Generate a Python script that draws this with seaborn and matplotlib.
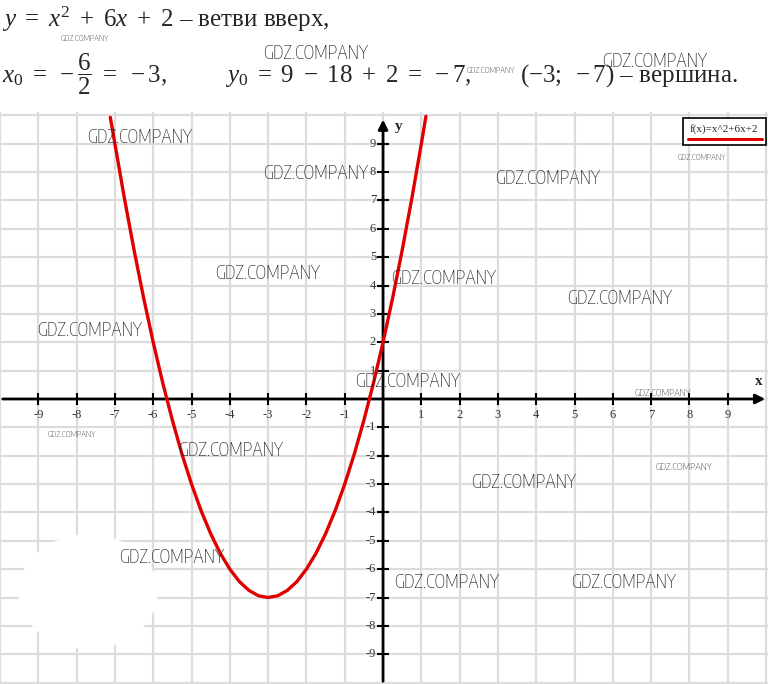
import matplotlib
matplotlib.use("Agg")
import matplotlib.pyplot as plt
import seaborn as sns
from matplotlib import font_manager
from matplotlib.font_manager import FontProperties
from matplotlib.patches import Ellipse, Rectangle
from matplotlib.lines import Line2D

# curve points: f(x) = x^2 + 6x + 2
curve_x = [-7.12, -7.0, -6.75, -6.5, -6.25, -6.0, -5.75, -5.5, -5.25, -5.0,
           -4.75, -4.5, -4.25, -4.0, -3.75, -3.5, -3.25, -3.0, -2.75, -2.5,
           -2.25, -2.0, -1.75, -1.5, -1.25, -1.0, -0.75, -0.5, -0.25, 0.0,
           0.25, 0.5, 0.75, 1.0, 1.12]
curve_y = [9.93, 9.0, 7.06, 5.25, 3.56, 2.0, 0.56, -0.75, -1.94, -3.0,
           -3.94, -4.75, -5.44, -6.0, -6.44, -6.75, -6.94, -7.0, -6.94, -6.75,
           -6.44, -6.0, -5.44, -4.75, -3.94, -3.0, -1.94, -0.75, 0.56, 2.0,
           3.56, 5.25, 7.06, 9.0, 9.97]

x_ticks = [-9, -8, -7, -6, -5, -4, -3, -2, -1, 1, 2, 3, 4, 5, 6, 7, 8, 9]
y_ticks = [-9, -8, -7, -6, -5, -4, -3, -2, -1, 1, 2, 3, 4, 5, 6, 7, 8, 9]
legend_label = "f(x)=x^2+6x+2"

# watermark positions in pixels (x, y from top, size)
watermarks = [(85, 38, 6), (316, 52, 13), (491, 70, 6), (655, 60, 13),
              (140, 136, 13), (316, 172, 13), (548, 177, 13), (702, 157, 6),
              (268, 272, 13), (444, 277, 13), (620, 297, 13), (90, 329, 13),
              (408, 380, 13), (663, 393, 7), (72, 434, 6), (231, 449, 13),
              (684, 466, 7), (524, 481, 13), (172, 556, 13), (447, 581, 13),
              (624, 581, 13)]

W, H = 768, 684
sns.set_style("white")
plt.rcParams['font.family'] = ['Liberation Serif', 'DejaVu Serif']
plt.rcParams['mathtext.fontset'] = 'custom'
plt.rcParams['mathtext.rm'] = 'Liberation Serif'
plt.rcParams['mathtext.it'] = 'Liberation Serif:italic'
plt.rcParams['mathtext.bf'] = 'Liberation Serif:bold'

# pick a narrow sans font for the watermark if there is one
narrow = [f for f in font_manager.fontManager.ttflist
          if ('Narrow' in f.name or 'Condensed' in f.name or f.stretch in ('condensed', 'semi-condensed', 'extra-condensed'))
          and 'Serif' not in f.name and 'Mono' not in f.name and f.style == 'normal']
narrow.sort(key=lambda f: (f.weight if isinstance(f.weight, int) else 400))
if narrow:
    wm_font = FontProperties(fname=narrow[0].fname)
    wm_scale = 1.0
else:
    wm_font = FontProperties(family='Roboto', weight='light')
    wm_scale = 0.8

fig = plt.figure(figsize=(W / 100, H / 100), dpi=100)

def fx(px):
    return px / W

def fy(py):
    return 1 - py / H

ax = fig.add_axes([0, 0, 1, fy(112)])
ax.set_xlim(-10.0, 10.05)
ax.set_ylim(-10.05, 10.12)
ax.set_xticks(range(-10, 11))
ax.set_yticks(range(-10, 11))
ax.tick_params(length=0, labelbottom=False, labelleft=False)
ax.grid(True, color='#dcdcdc', lw=1.6, zorder=0)
for s in ax.spines.values():
    s.set_visible(False)

# erased patch bottom left
ax.add_patch(Ellipse((-7.7, -6.8), 3.6, 4.0, color='white', zorder=1))

# axes with arrows
ax.annotate('', xy=(10.05, 0), xytext=(-10.0, 0),
            arrowprops=dict(arrowstyle='-|>', lw=2, color='black', mutation_scale=14),
            zorder=3)
ax.annotate('', xy=(0, 9.95), xytext=(0, -10.05),
            arrowprops=dict(arrowstyle='-|>', lw=2, color='black', mutation_scale=14),
            zorder=3)
ax.plot(x_ticks, [0] * len(x_ticks), ls='none', marker='|', ms=8, mew=1.5, color='black', zorder=3)
ax.plot([0] * len(y_ticks), y_ticks, ls='none', marker='_', ms=8, mew=1.5, color='black', zorder=3)

for t in x_ticks:
    ax.annotate(str(t), (t, 0), xytext=(0, -7), textcoords='offset points',
                ha='center', va='top', fontsize=9, color='#333333')
for t in y_ticks:
    ax.annotate(str(t), (0, t), xytext=(-5, 0), textcoords='offset points',
                ha='right', va='center', fontsize=9, color='#333333')
ax.text(9.8, 0.4, 'x', fontsize=11, fontweight='bold', ha='center', va='bottom')
ax.text(0.4, 9.6, 'y', fontsize=11, fontweight='bold', ha='center', va='center')

sns.lineplot(x=curve_x, y=curve_y, sort=False, color='#e00000', lw=2.4, ax=ax, zorder=4)

# legend box
fig.add_artist(Rectangle((fx(683), fy(145)), fx(766) - fx(683), fy(118) - fy(145),
                         transform=fig.transFigure, fc='white', ec='black', lw=1.2))
fig.text(fx(724), fy(129), legend_label, ha='center', va='center', fontsize=8)
fig.add_artist(Line2D([fx(688), fx(762)], [fy(139), fy(139)], color='#e00000', lw=2.2,
                      transform=fig.transFigure))

# header text
fig.text(fx(2), fy(27), r"$y\ =\ x^2\ +\ 6x\ +\ 2$ – ветви вверх,", fontsize=18, va='baseline')
fig.text(fx(2), fy(82), r"$x_0\ =\ -\dfrac{6}{2}\ =\ -3,$", fontsize=18, va='baseline')
fig.text(fx(225), fy(82), r"$y_0\ =\ 9\ -\ 18\ +\ 2\ =\ -7,$", fontsize=18, va='baseline')
fig.text(fx(520), fy(82), r"$(-3;\ -7)$ – вершина.", fontsize=18, va='baseline')

for px, py, fs in watermarks:
    fig.text(fx(px), fy(py), "GDZ.COMPANY", ha='center', va='center', fontsize=fs * wm_scale,
             fontproperties=wm_font, color='#222222', zorder=10)

fig.savefig("out.png", dpi=100)
